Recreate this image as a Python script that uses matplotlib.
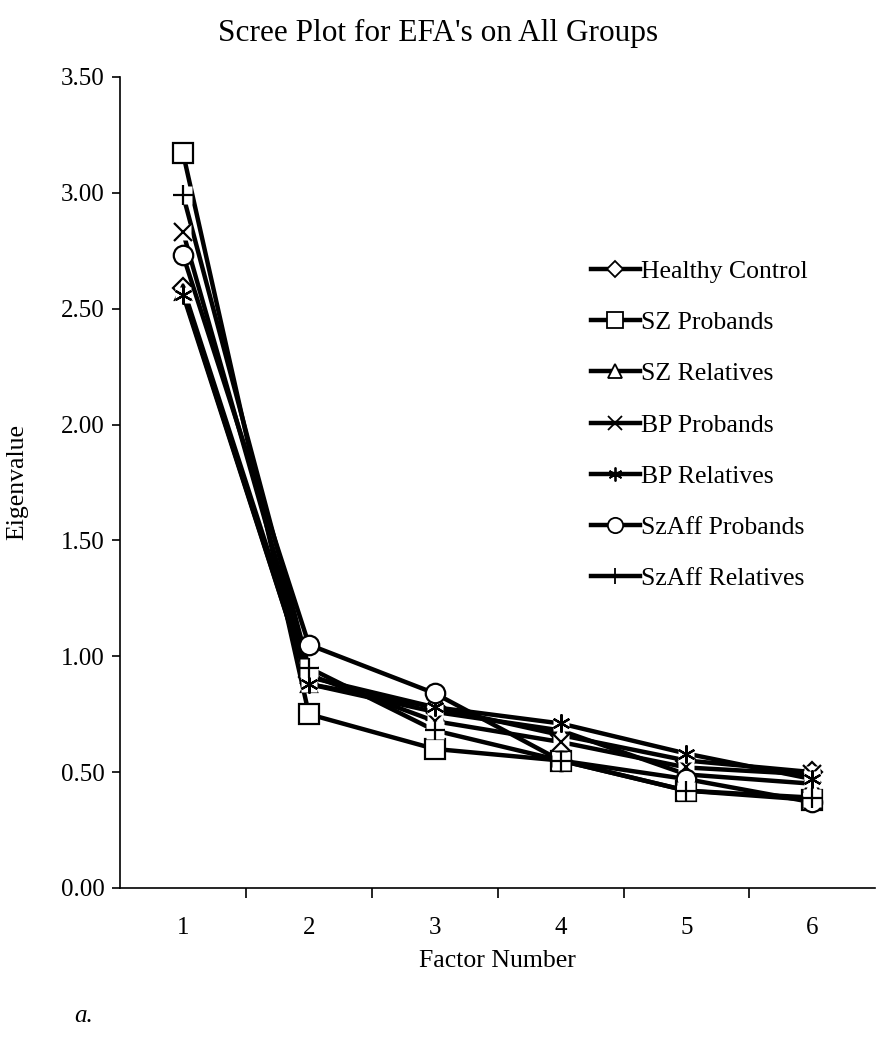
import numpy as np
import matplotlib
matplotlib.use("Agg")
import matplotlib.pyplot as plt

plt.rcParams['font.family'] = ['Liberation Serif', 'DejaVu Serif']

factors = [1, 2, 3, 4, 5, 6]
groups = ["Healthy Control", "SZ Probands", "SZ Relatives", "BP Probands",
          "BP Relatives", "SzAff Probands", "SzAff Relatives"]

healthy_control = [2.59, 0.91, 0.78, 0.66, 0.55, 0.50]
sz_probands = [3.17, 0.75, 0.60, 0.55, 0.42, 0.38]
sz_relatives = [2.57, 0.88, 0.76, 0.68, 0.49, 0.45]
bp_probands = [2.83, 0.92, 0.72, 0.63, 0.52, 0.49]
bp_relatives = [2.56, 0.88, 0.78, 0.71, 0.58, 0.47]
szaff_probands = [2.73, 1.05, 0.84, 0.55, 0.47, 0.37]
szaff_relatives = [2.99, 0.95, 0.68, 0.55, 0.42, 0.39]

series = [healthy_control, sz_probands, sz_relatives, bp_probands,
          bp_relatives, szaff_probands, szaff_relatives]
markers = ['D', 's', '^', 'x', (6, 2, 0), 'o', '+']
msizes = [10, 14, 12, 13, 13, 14, 14]
leg_sizes = [8, 11, 10, 10, 10, 11, 11]

fig = plt.figure(figsize=(8.77, 10.5), dpi=100)
ax = fig.add_axes([0.137, 0.1543, 0.861, 0.7724])

for i, (vals, m) in enumerate(zip(series, markers)):
    ax.plot(factors, vals, color='black', lw=3.2, zorder=2, solid_capstyle='round')
for i, (vals, m) in enumerate(zip(series, markers)):
    if m in ('x', '+') or isinstance(m, tuple):
        # white box behind line-only markers, like Excel
        ax.plot(factors, vals, ls='none', marker='s', ms=msizes[i] - 1,
                mfc='white', mec='none', zorder=3 + i)
        ax.plot(factors, vals, ls='none', marker=m, ms=msizes[i], mew=1.6,
                color='black', zorder=3 + i)
    else:
        ax.plot(factors, vals, ls='none', marker=m, ms=msizes[i], mew=1.6,
                mfc='white', mec='black', zorder=3 + i)

# legend proxies
handles = []
for i, m in enumerate(markers):
    h, = ax.plot([], [], color='black', lw=3.2, marker=m, ms=leg_sizes[i],
                 mew=1.3, mfc='white', mec='black')
    handles.append(h)
ax.legend(handles, groups, loc='upper left', bbox_to_anchor=(0.61, 0.787),
          frameon=False, fontsize=18.5, handlelength=1.9, handletextpad=0.05,
          labelspacing=1.1, borderaxespad=0)

ax.set_xlim(0.5, 6.5)
ax.set_ylim(0, 3.5)
ax.set_yticks(np.arange(0, 3.51, 0.5))
ax.set_yticklabels([f"{v:.2f}" for v in np.arange(0, 3.51, 0.5)])
ax.set_xticks(factors)
ax.set_xticklabels([str(f) for f in factors])
ax.set_xticks(np.arange(1.5, 6.0, 1.0), minor=True)
ax.tick_params(axis='x', which='major', length=0, labelsize=18, pad=21)
ax.tick_params(axis='x', which='minor', length=7, width=1.2, direction='out')
ax.tick_params(axis='y', length=6, width=1.2, direction='out', labelsize=18, pad=5)

ax.spines['top'].set_visible(False)
ax.spines['right'].set_visible(False)
ax.spines['left'].set_linewidth(1.2)
ax.spines['bottom'].set_linewidth(1.2)

ax.set_xlabel("Factor Number", fontsize=18.5, labelpad=8)
ax.set_ylabel("Eigenvalue", fontsize=18.5, labelpad=24)
fig.text(0.5, 0.982, "Scree Plot for EFA's on All Groups", ha='center', va='top',
         fontsize=22.5)
fig.text(0.085, 0.022, "a.", fontsize=18, style='italic', ha='left', va='bottom')

fig.savefig("out.png", dpi=100)
